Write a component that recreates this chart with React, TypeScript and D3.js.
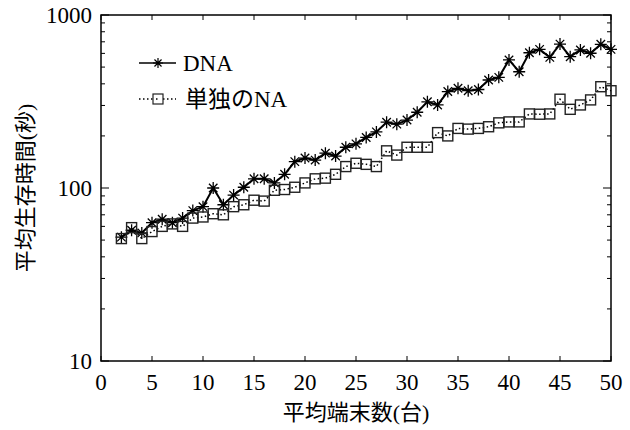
import * as d3 from "d3";
import React from "react";

// mean number of terminals (x)
const terminals = [
  2, 3, 4, 5, 6, 7, 8, 9, 10, 11, 12, 13, 14, 15, 16, 17, 18, 19, 20, 21, 22, 23, 24, 25, 26,
  27, 28, 29, 30, 31, 32, 33, 34, 35, 36, 37, 38, 39, 40, 41, 42, 43, 44, 45, 46, 47, 48, 49, 50,
];

// mean survival time (s), DNA
const dnaValues = [
  52, 57, 55, 63, 66, 63, 67, 74, 78, 100, 80, 91, 101, 113, 113, 107, 120, 142, 149, 145, 159,
  153, 172, 180, 196, 211, 240, 234, 247, 274, 315, 302, 361, 377, 365, 371, 421, 436, 550, 470,
  605, 633, 569, 679, 574, 628, 601, 677, 633,
];

// mean survival time (s), single NA
const singleValues = [
  51, 59, 51, 56, 60, 62, 60, 67, 68, 71, 70, 78, 80, 85, 84, 97, 98, 101, 107, 113, 114, 120,
  133, 139, 137, 133, 164, 155, 172, 172, 172, 209, 200, 221, 219, 221, 226, 238, 241, 241, 268,
  267, 268, 326, 285, 302, 323, 385, 365,
];

const xTicks = [0, 5, 10, 15, 20, 25, 30, 35, 40, 45, 50];
const yTicks = [10, 100, 1000];
const seriesNames = ["DNA", "単独のNA"];
const xLabel = "平均端末数(台)";
const yLabel = "平均生存時間(秒)";

const serif = "'Liberation Serif', 'Noto Sans CJK JP', serif";

function starPath(r: number) {
  const d = r * Math.SQRT1_2;
  return `M${-r},0L${r},0M0,${-r}L0,${r}M${-d},${-d}L${d},${d}M${-d},${d}L${d},${-d}`;
}

export default function App() {
  const ref = React.useRef<SVGSVGElement>(null);

  React.useEffect(() => {
    const svg = d3.select(ref.current);
    svg.selectAll("*").remove();

    const left = 101, right = 611, top = 15, bottom = 361;

    const x = d3.scaleLinear().domain([0, 50]).range([left, right]);
    const y = d3.scaleLog().domain([10, 1000]).range([bottom, top]);

    svg.append("rect").attr("width", 630).attr("height", 430).attr("fill", "#fff");

    // minor / major ticks on both sides
    const minor: number[] = [];
    [10, 100].forEach((dec) => {
      for (let k = 2; k <= 9; k++) minor.push(dec * k);
    });
    const ticks = svg.append("g").attr("stroke", "#000").attr("stroke-width", 1);
    minor.forEach((v) => {
      ticks.append("line").attr("x1", left).attr("x2", left + 4).attr("y1", y(v)).attr("y2", y(v));
      ticks.append("line").attr("x1", right).attr("x2", right - 4).attr("y1", y(v)).attr("y2", y(v));
    });
    yTicks.forEach((v) => {
      ticks.append("line").attr("x1", left).attr("x2", left + 8).attr("y1", y(v)).attr("y2", y(v));
      ticks.append("line").attr("x1", right).attr("x2", right - 8).attr("y1", y(v)).attr("y2", y(v));
    });
    xTicks.forEach((v) => {
      ticks.append("line").attr("x1", x(v)).attr("x2", x(v)).attr("y1", bottom).attr("y2", bottom - 5);
      ticks.append("line").attr("x1", x(v)).attr("x2", x(v)).attr("y1", top).attr("y2", top + 5);
    });

    // frame
    svg
      .append("rect")
      .attr("x", left)
      .attr("y", top)
      .attr("width", right - left)
      .attr("height", bottom - top)
      .attr("fill", "none")
      .attr("stroke", "#000")
      .attr("stroke-width", 1.5);

    // tick labels
    svg
      .append("g")
      .selectAll("text")
      .data(yTicks)
      .enter()
      .append("text")
      .attr("x", left - 9)
      .attr("y", (d) => y(d))
      .attr("dy", "0.35em")
      .attr("text-anchor", "end")
      .style("font-family", serif)
      .style("font-size", "23px")
      .text((d) => d);

    svg
      .append("g")
      .selectAll("text")
      .data(xTicks)
      .enter()
      .append("text")
      .attr("x", (d) => x(d))
      .attr("y", bottom + 29)
      .attr("text-anchor", "middle")
      .style("font-family", serif)
      .style("font-size", "23px")
      .text((d) => d);

    // axis titles
    svg
      .append("text")
      .attr("x", (left + right) / 2)
      .attr("y", 420)
      .attr("text-anchor", "middle")
      .style("font-family", serif)
      .style("font-size", "22px")
      .text(xLabel);

    svg
      .append("text")
      .attr("transform", `translate(33, ${(top + bottom) / 2}) rotate(-90)`)
      .attr("text-anchor", "middle")
      .style("font-family", serif)
      .style("font-size", "22px")
      .text(yLabel);

    const line = d3
      .line<number>()
      .x((d, i) => x(terminals[i]))
      .y((d) => y(d));

    // DNA series
    svg
      .append("path")
      .datum(dnaValues)
      .attr("d", line)
      .attr("fill", "none")
      .attr("stroke", "#000")
      .attr("stroke-width", 2);

    svg
      .append("g")
      .selectAll("path")
      .data(dnaValues)
      .enter()
      .append("path")
      .attr("transform", (d, i) => `translate(${x(terminals[i])},${y(d)})`)
      .attr("d", starPath(6))
      .attr("stroke", "#000")
      .attr("stroke-width", 1.3);

    // single NA series
    svg
      .append("path")
      .datum(singleValues)
      .attr("d", line)
      .attr("fill", "none")
      .attr("stroke", "#000")
      .attr("stroke-width", 1.5)
      .attr("stroke-dasharray", "1.5,2.5");

    svg
      .append("g")
      .selectAll("rect")
      .data(singleValues)
      .enter()
      .append("rect")
      .attr("x", (d, i) => x(terminals[i]) - 5)
      .attr("y", (d) => y(d) - 5)
      .attr("width", 10)
      .attr("height", 10)
      .attr("fill", "none")
      .attr("stroke", "#222")
      .attr("stroke-width", 1.4);

    // legend
    const legend = svg.append("g");
    const rows = [63, 99];
    legend
      .append("line")
      .attr("x1", 139)
      .attr("x2", 176)
      .attr("y1", rows[0])
      .attr("y2", rows[0])
      .attr("stroke", "#000")
      .attr("stroke-width", 1.5);
    legend
      .append("path")
      .attr("transform", `translate(158,${rows[0]})`)
      .attr("d", starPath(5))
      .attr("stroke", "#000")
      .attr("stroke-width", 1.2);
    legend
      .append("line")
      .attr("x1", 139)
      .attr("x2", 176)
      .attr("y1", rows[1])
      .attr("y2", rows[1])
      .attr("stroke", "#000")
      .attr("stroke-width", 1.5)
      .attr("stroke-dasharray", "1.5,2.5");
    legend
      .append("rect")
      .attr("x", 153)
      .attr("y", rows[1] - 5)
      .attr("width", 10)
      .attr("height", 10)
      .attr("fill", "#fff")
      .attr("stroke", "#222")
      .attr("stroke-width", 1.2);
    legend
      .append("line")
      .attr("x1", 156)
      .attr("x2", 160)
      .attr("y1", rows[1])
      .attr("y2", rows[1])
      .attr("stroke", "#000")
      .attr("stroke-width", 1.5)
      .attr("stroke-dasharray", "1.5,2.5");
    legend
      .selectAll("text")
      .data(seriesNames)
      .enter()
      .append("text")
      .attr("x", (d, i) => (i === 0 ? 183 : 185))
      .attr("y", (d, i) => rows[i])
      .attr("dy", "0.36em")
      .style("font-family", serif)
      .style("font-size", "23px")
      .text((d) => d);
  }, []);

  return (
    <svg
      ref={ref}
      width={630}
      height={430}
      style={{ position: "absolute", left: 0, top: 0, display: "block" }}
    ></svg>
  );
}
